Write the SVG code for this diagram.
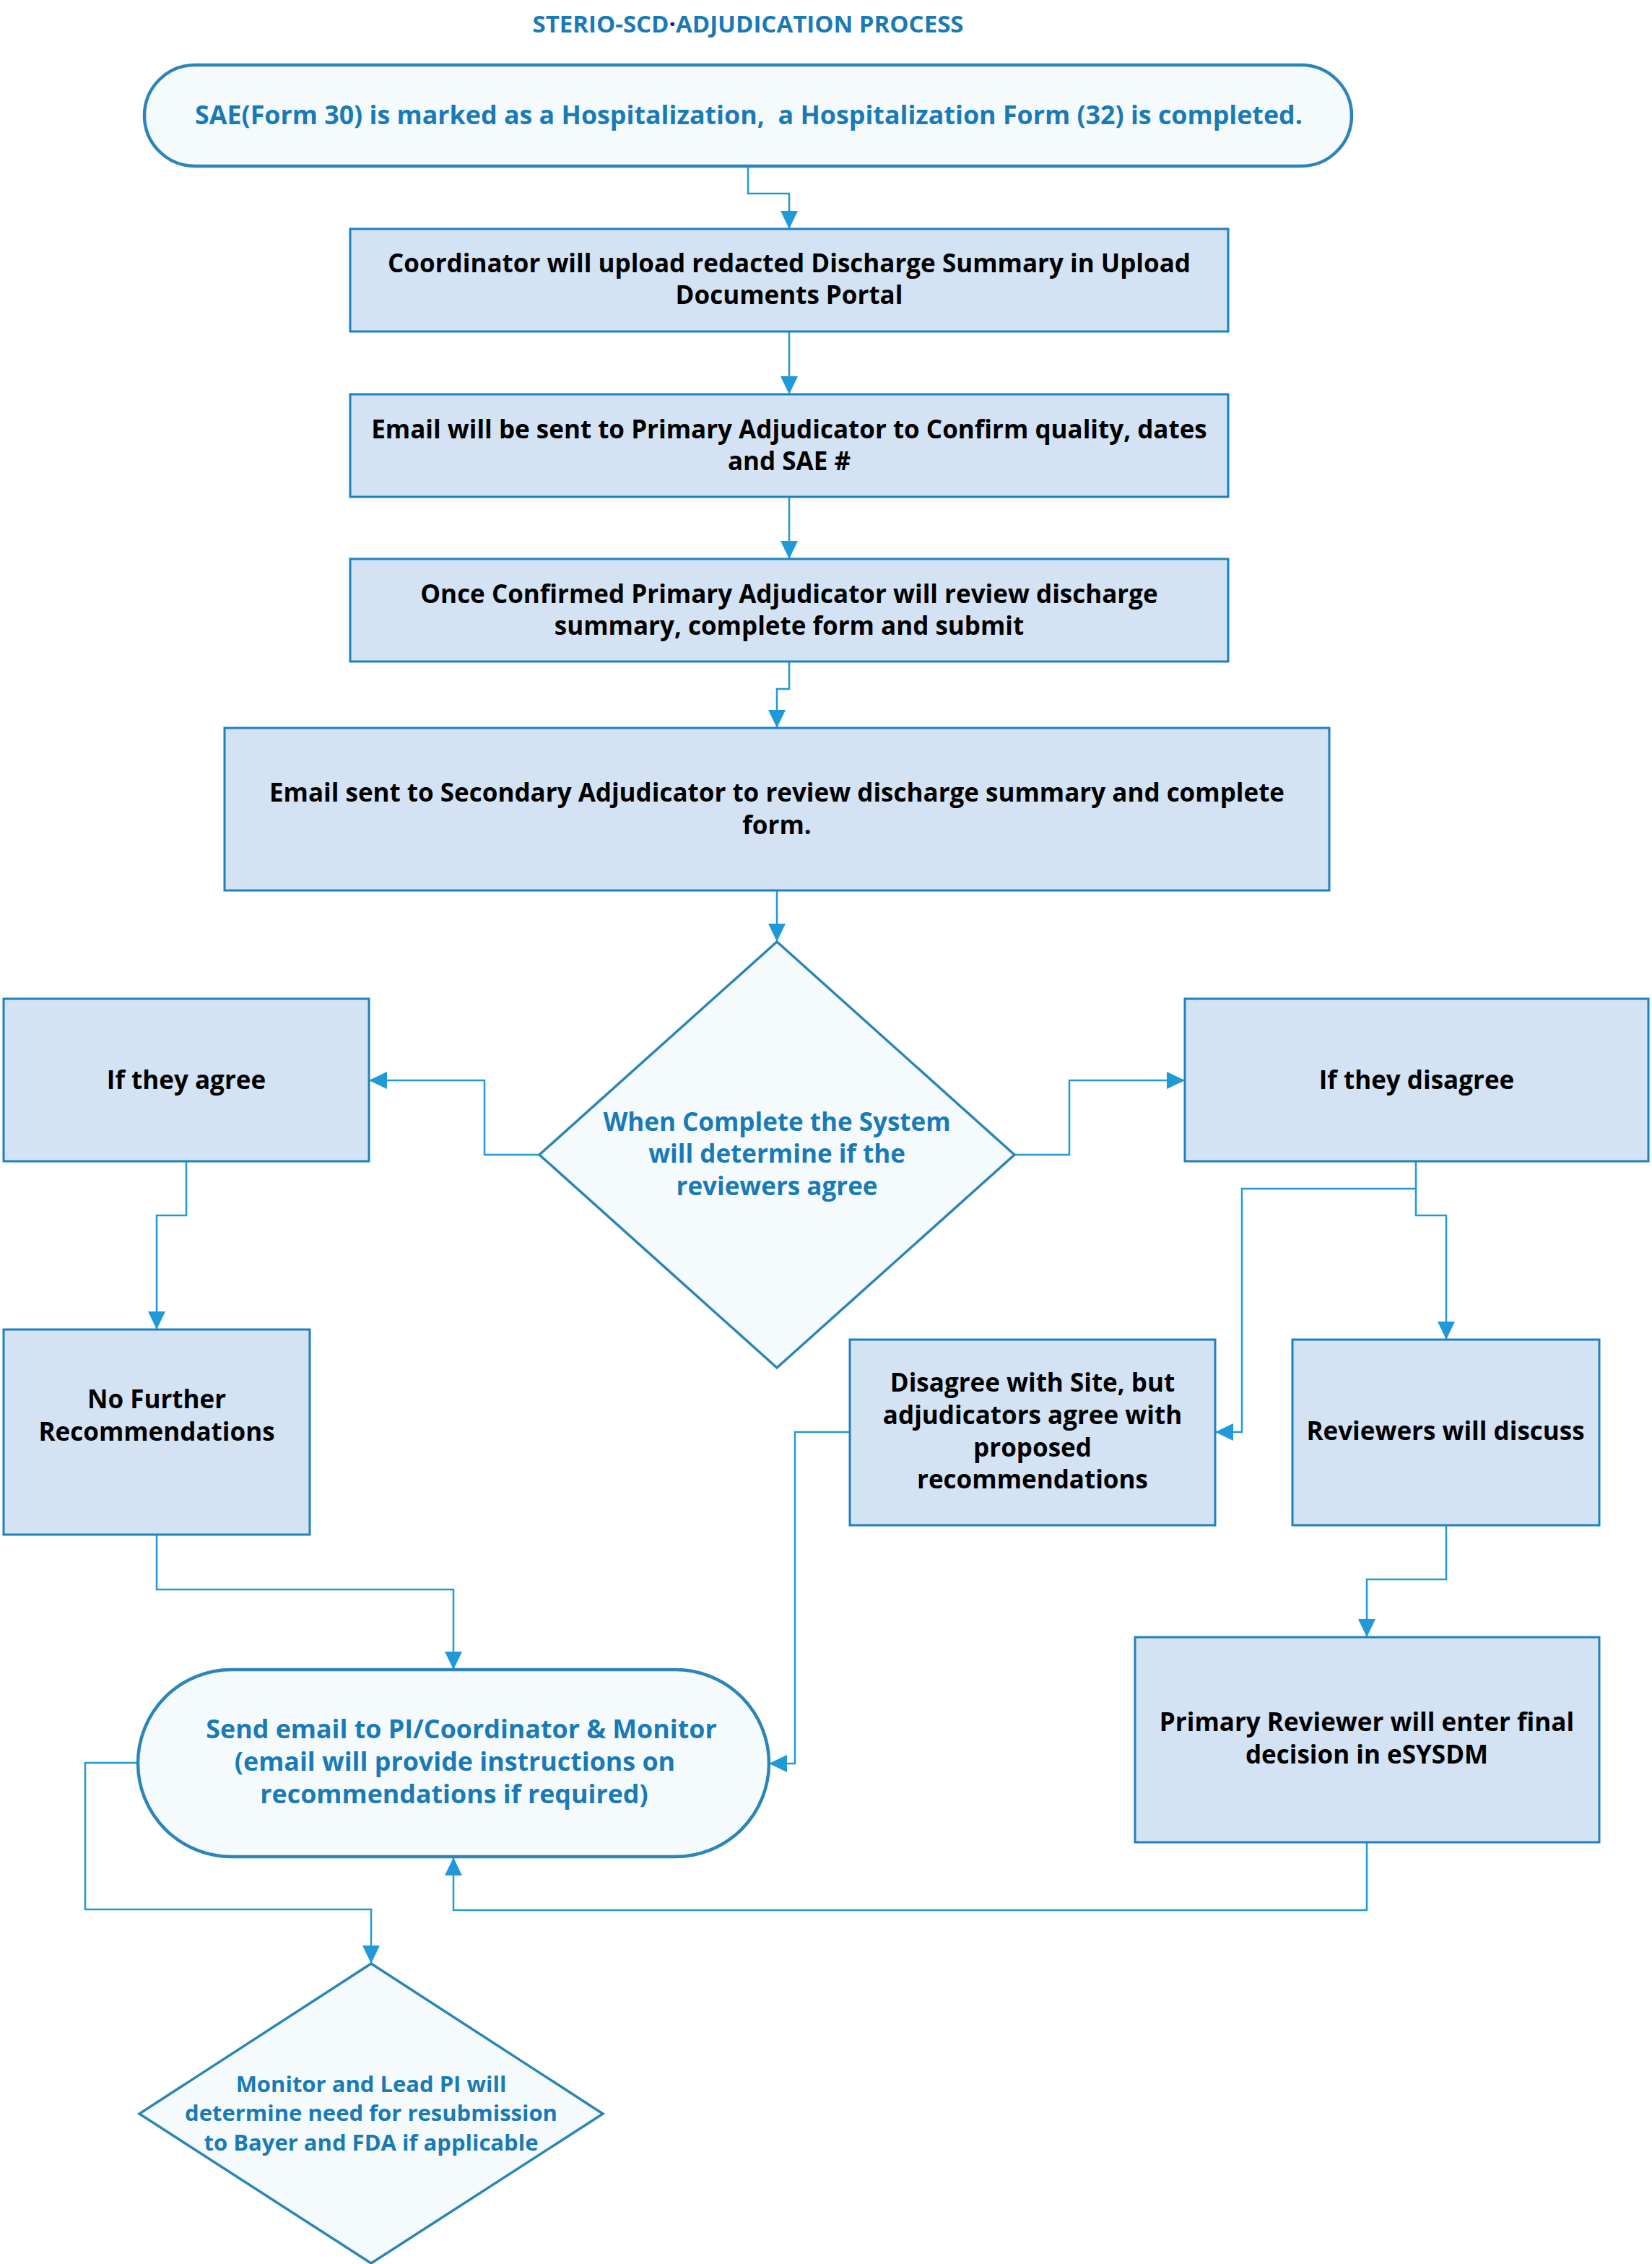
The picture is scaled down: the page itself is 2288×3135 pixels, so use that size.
<svg xmlns="http://www.w3.org/2000/svg" width="2288" height="3135" viewBox="0 0 2288 3135">
<style>
.box{fill:#d3e3f4;stroke:#1f80c0;stroke-width:3}
.term{fill:#f5fbfd;stroke:#2c85b8;stroke-width:4.5}
.dec{fill:#f5fbfd;stroke:#2b85b5;stroke-width:3.5}
.t{font-family:"Open Sans","Noto Sans","DejaVu Sans",sans-serif;font-weight:700;font-size:35px;text-anchor:middle;fill:#000}
.b{fill:#1a7ab5}
.s{font-size:31px}
.conn path{fill:none;stroke:#1f9ad6;stroke-width:2.5}
</style>
<defs>
<marker id="ah" markerUnits="userSpaceOnUse" markerWidth="26" markerHeight="26" refX="25" refY="12" orient="auto" viewBox="0 0 26 24">
<path d="M0,0 L25,12 L0,24 z" fill="#1f9ad6"/>
</marker>
</defs>
<rect width="2288" height="3135" fill="#fff"/>
<text x="1036" y="45" class="t b" style="font-size:33px">STERIO-SCD<tspan fill="#1010d0">·</tspan>ADJUDICATION PROCESS</text>

<g class="conn">
<path d="M1036,230 V268 H1093 V317" marker-end="url(#ah)"/>
<path d="M1093,459 V546" marker-end="url(#ah)"/>
<path d="M1093,688 V774" marker-end="url(#ah)"/>
<path d="M1093,916 V954 H1076 V1008" marker-end="url(#ah)"/>
<path d="M1076,1233 V1304" marker-end="url(#ah)"/>
<path d="M747,1599 H671 V1496 H511" marker-end="url(#ah)"/>
<path d="M1405,1599 H1481 V1496 H1641" marker-end="url(#ah)"/>
<path d="M258,1608 V1683 H217 V1841" marker-end="url(#ah)"/>
<path d="M1961,1608 V1646 H1720 V1983 H1683" marker-end="url(#ah)"/>
<path d="M1961,1646 V1683 H2003 V1855" marker-end="url(#ah)"/>
<path d="M2003,2112 V2187 H1893 V2267" marker-end="url(#ah)"/>
<path d="M1893,2551 V2645 H628 V2572" marker-end="url(#ah)"/>
<path d="M217,2125 V2201 H628 V2312" marker-end="url(#ah)"/>
<path d="M1177,1983 H1101 V2442 H1065" marker-end="url(#ah)"/>
<path d="M191,2441 H118 V2644 H514 V2719" marker-end="url(#ah)"/>
</g>

<g id="start">
<rect x="200" y="90" width="1672" height="140" rx="70" class="term"/>
<text x="1037" y="172" class="t b" style="font-size:35.8px" xml:space="preserve">SAE(Form 30) is marked as a Hospitalization,  a Hospitalization Form (32) is completed.</text>
</g>
<g id="upload">
<rect x="485" y="317" width="1216" height="142" class="box"/>
<text x="1093" y="377" class="t">Coordinator will upload redacted Discharge Summary in Upload</text>
<text x="1093" y="421" class="t">Documents Portal</text>
</g>
<g id="email-primary">
<rect x="485" y="546" width="1216" height="142" class="box"/>
<text x="1093" y="607" class="t">Email will be sent to Primary Adjudicator to Confirm quality, dates</text>
<text x="1093" y="651" class="t">and SAE #</text>
</g>
<g id="primary-review">
<rect x="485" y="774" width="1216" height="142" class="box"/>
<text x="1093" y="835" class="t">Once Confirmed Primary Adjudicator will review discharge</text>
<text x="1093" y="879" class="t">summary, complete form and submit</text>
</g>
<g id="email-secondary">
<rect x="311" y="1008" width="1530" height="225" class="box"/>
<text x="1076" y="1110" class="t">Email sent to Secondary Adjudicator to review discharge summary and complete</text>
<text x="1076" y="1155" class="t">form.</text>
</g>
<g id="decision">
<polygon points="1076,1304 1405,1599 1076,1894 747,1599" class="dec"/>
<text x="1076" y="1566" class="t b">When Complete the System</text>
<text x="1076" y="1610" class="t b">will determine if the</text>
<text x="1076" y="1655" class="t b">reviewers agree</text>
</g>
<g id="agree">
<rect x="5" y="1383" width="506" height="225" class="box"/>
<text x="258" y="1508" class="t">If they agree</text>
</g>
<g id="disagree">
<rect x="1641" y="1383" width="642" height="225" class="box"/>
<text x="1962" y="1508" class="t">If they disagree</text>
</g>
<g id="no-further">
<rect x="5" y="1841" width="424" height="284" class="box"/>
<text x="217" y="1950" class="t">No Further</text>
<text x="217" y="1995" class="t">Recommendations</text>
</g>
<g id="disagree-site">
<rect x="1177" y="1855" width="506" height="257" class="box"/>
<text x="1430" y="1927" class="t">Disagree with Site, but</text>
<text x="1430" y="1972" class="t">adjudicators agree with</text>
<text x="1430" y="2017" class="t">proposed</text>
<text x="1430" y="2061" class="t">recommendations</text>
</g>
<g id="discuss">
<rect x="1790" y="1855" width="425" height="257" class="box"/>
<text x="2002" y="1994" class="t">Reviewers will discuss</text>
</g>
<g id="final-decision">
<rect x="1572" y="2267" width="643" height="284" class="box"/>
<text x="1893" y="2397" class="t">Primary Reviewer will enter final</text>
<text x="1893" y="2442" class="t">decision in eSYSDM</text>
</g>
<g id="send-email">
<rect x="191" y="2312" width="874" height="259" rx="129.5" class="term"/>
<text x="639" y="2407" class="t b" style="font-size:35.8px">Send email to PI/Coordinator &amp; Monitor</text>
<text x="630" y="2452" class="t b" style="font-size:35.8px">(email will provide instructions on</text>
<text x="629" y="2497" class="t b" style="font-size:35.8px">recommendations if required)</text>
</g>
<g id="resubmission">
<polygon points="514,2719 835,2927 514,3134 193,2927" class="dec"/>
<text x="514" y="2897" class="t b s">Monitor and Lead PI will</text>
<text x="514" y="2937" class="t b s">determine need for resubmission</text>
<text x="514" y="2978" class="t b s">to Bayer and FDA if applicable</text>
</g>
</svg>
